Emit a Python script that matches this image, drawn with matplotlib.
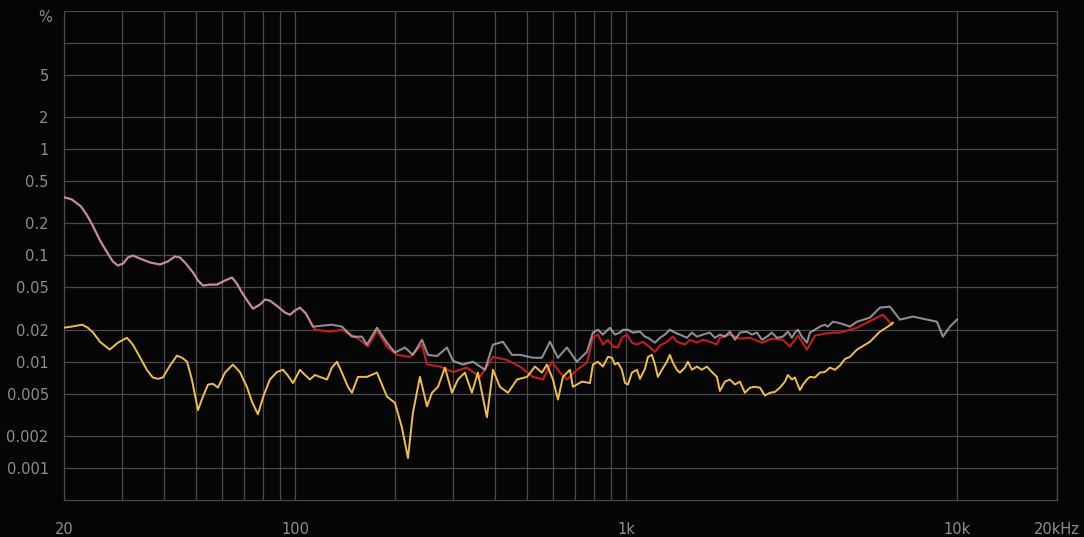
import matplotlib.pyplot as plt
from matplotlib.ticker import FixedLocator, NullFormatter

# frequency (Hz) and distortion (%)
grey_f = [20.1, 21.1, 22.5, 23.5, 24.5, 25.7, 27.0, 28.1, 29.1, 30.2, 31.2, 32.3, 33.9, 36.4,
          39.0, 41.2, 43.3, 44.8, 46.7, 49.1, 50.8, 52.6, 55.2, 58.0, 61.3, 64.4, 66.6, 69.0,
          71.9, 74.5, 78.2, 81.0, 83.8, 88.6, 93.1, 96.4, 99.7, 103.3, 107.7, 113.0,
          129.0, 138.4, 148.3, 159.0, 164.6, 176.5, 189.2, 200, 214.4, 226.6, 241.4, 251.6,
          268, 287.2, 299.4, 321, 344, 374.2, 395.6, 424, 451.4, 477.2, 522.4, 556.2, 587.8,
          621.6, 661.6, 709.2, 760.6,
          793, 821, 850, 892, 924, 957, 977, 1012, 1047, 1100, 1139, 1163, 1221, 1264, 1308,
          1354, 1403, 1452, 1525, 1579, 1635, 1704, 1789, 1853, 1918, 1986, 2056, 2130, 2205,
          2314, 2396, 2482, 2570, 2660, 2754, 2852, 2974, 3078, 3166, 3232, 3300, 3394, 3514,
          3588, 3714, 3846, 3982, 4066, 4210, 4358, 4576, 4738,
          4976, 5446, 5840, 6260, 6710, 7346, 8098, 8680, 9050, 9502, 9978]
grey_v = [0.352, 0.3375, 0.290, 0.2384, 0.188, 0.1385, 0.107, 0.0878, 0.0805, 0.0840, 0.0958,
          0.100, 0.0937, 0.0859, 0.0822, 0.0878, 0.0979, 0.0958, 0.0840, 0.0691, 0.0581,
          0.0521, 0.0532, 0.0532, 0.0581, 0.0620, 0.0544, 0.0448, 0.0368, 0.0316, 0.0345,
          0.0385, 0.0376, 0.0330, 0.0290, 0.0277, 0.0303, 0.0323, 0.0284, 0.0214,
          0.0223, 0.0214, 0.0172, 0.0172, 0.0145, 0.0209, 0.0151, 0.0122, 0.0136, 0.0116,
          0.0161, 0.0116, 0.0113, 0.0136, 0.0102, 0.0094, 0.0100, 0.0084, 0.0145, 0.0154,
          0.0116, 0.0116, 0.0109, 0.0109, 0.0154, 0.0109, 0.0136, 0.0100, 0.0124,
          0.0188, 0.0200, 0.0180, 0.0209, 0.0180, 0.0188, 0.0200, 0.0200, 0.0188, 0.0192,
          0.0172, 0.0168, 0.0151, 0.0168, 0.0180, 0.0200, 0.0188, 0.0180, 0.0168, 0.0188,
          0.0172, 0.0180, 0.0188, 0.0168, 0.0180, 0.0172, 0.0192, 0.0161, 0.0188, 0.0192,
          0.0180, 0.0188, 0.0161, 0.0172, 0.0188, 0.0168, 0.0172, 0.0192, 0.0168, 0.0188,
          0.0200, 0.0172, 0.0151, 0.0188, 0.0200, 0.0214, 0.0223, 0.0214, 0.0238, 0.0233,
          0.0223, 0.0214,
          0.0238, 0.0260, 0.0323, 0.0330, 0.0249, 0.0266, 0.0249, 0.0238, 0.0172, 0.0214,
          0.0249]

red_f = [20.1, 21.1, 22.5, 23.5, 24.5, 25.7, 27.0, 28.1, 29.1, 30.2, 31.2, 32.3, 33.9, 36.4,
         39.0, 41.2, 43.3, 44.8, 46.7, 49.1, 50.8, 52.6, 55.2, 58.0, 61.3, 64.4, 66.6, 69.0,
         71.9, 74.5, 78.2, 81.0, 83.8, 88.6, 93.1, 96.4, 99.7, 103.3, 107.7,
         114.6, 127.3, 138.4, 156.7, 165.8, 176.5, 189.2, 202.8, 222, 241.4, 250, 273.6,
         299.4, 330, 361.2, 395.6, 436, 477.2, 522.4, 560, 596.2, 630.2, 661.6, 709.2, 760.6,
         793, 821, 850, 880, 911, 944, 970, 1005, 1040, 1077, 1123, 1179, 1221, 1264, 1327,
         1383, 1422, 1504, 1557, 1635, 1704, 1789, 1879,
         1918, 2056, 2205, 2364, 2570, 2754, 2974, 3122, 3300, 3514, 3714, 3982, 4210, 4420,
         4976, 5560, 5962, 6346]
red_v = [0.352, 0.3375, 0.290, 0.2384, 0.188, 0.1385, 0.107, 0.0878, 0.0805, 0.0840, 0.0958,
         0.100, 0.0937, 0.0859, 0.0822, 0.0878, 0.0979, 0.0958, 0.0840, 0.0691, 0.0581,
         0.0521, 0.0532, 0.0532, 0.0581, 0.0620, 0.0544, 0.0448, 0.0368, 0.0316, 0.0345,
         0.0385, 0.0376, 0.0330, 0.0290, 0.0277, 0.0303, 0.0323, 0.0284,
         0.0200, 0.0192, 0.0200, 0.0161, 0.0139, 0.0196, 0.0139, 0.0116, 0.0111, 0.0145,
         0.0094, 0.0090, 0.0080, 0.0088, 0.0072, 0.0111, 0.0104, 0.0090, 0.0072, 0.0068,
         0.0100, 0.0079, 0.0068, 0.0084, 0.0098,
         0.0168, 0.0180, 0.0145, 0.0161, 0.0139, 0.0136, 0.0168, 0.0180, 0.0151, 0.0145,
         0.0154, 0.0136, 0.0124, 0.0142, 0.0154, 0.0172, 0.0154, 0.0145, 0.0161, 0.0151,
         0.0161, 0.0154, 0.0145,
         0.0168, 0.0180, 0.0165, 0.0168, 0.0151, 0.0165, 0.0161, 0.0139, 0.0176, 0.0130,
         0.0176, 0.0184, 0.0188, 0.0188, 0.0209, 0.0249, 0.0277, 0.0223]

yellow_f = [20, 21.1, 22.7, 23.6, 24.5, 25.7, 27.5, 29.1, 31.0, 32.3, 33.9, 35.6, 37.1, 38.5,
            39.8, 41.8, 43.9, 45.5, 47.1, 48.7, 50.8, 52.6, 54.5, 56.4, 58.4, 61.3, 64.8,
            68.0, 71.4, 74.0, 77.1, 80.4, 83.8, 88.0, 91.8, 95.0, 98.4, 101.1, 103.3, 107.0,
            110.7, 114.6, 118.6, 124.7, 129.0, 133.6, 139.3, 144.2, 148.3, 154.6,
            164.6, 176.5, 189.2, 200, 210, 219, 226.6, 238, 250, 258.8, 269.8, 283.2, 297.4,
            310, 325.4, 341.6, 356.2, 379.2, 395.6, 415.2, 439, 467.4, 501, 529.8, 556.2,
            575.8, 600.4, 621.6, 643.6, 675.6, 689.8, 734.6,
            776.6, 793, 821, 850, 880, 905, 924, 944, 970, 991, 1012, 1040, 1077, 1100, 1139,
            1163, 1195, 1221, 1246, 1281, 1327, 1354, 1383, 1422, 1452, 1504, 1535, 1579,
            1635, 1692, 1752, 1814, 1879,
            1918, 1986, 2056, 2130, 2205, 2282, 2364, 2448, 2534, 2624, 2716, 2812, 2912,
            3016, 3078, 3166, 3232, 3346, 3418, 3514, 3588, 3714, 3846, 3982, 4124, 4270,
            4420, 4576, 4738,
            4976, 5446, 5840, 6172, 6390]
yellow_v = [0.0209, 0.0214, 0.0223, 0.0209, 0.0188, 0.0154, 0.0130, 0.0151, 0.0168, 0.0145,
            0.0111, 0.0084, 0.0071, 0.0069, 0.0071, 0.0092, 0.0114, 0.0109, 0.0100, 0.0068,
            0.0035, 0.0047, 0.0061, 0.0062, 0.0057, 0.0079, 0.0094, 0.0080, 0.0058, 0.0042,
            0.0032, 0.0049, 0.0068, 0.0080, 0.0084, 0.0074, 0.0063, 0.0074, 0.0084, 0.0075,
            0.0068, 0.0075, 0.0072, 0.0068, 0.0088, 0.0100, 0.0075, 0.0058, 0.0051, 0.0072,
            0.0072, 0.0079, 0.0047, 0.0041, 0.0024, 0.00124, 0.0033, 0.0072, 0.0038, 0.0051,
            0.0058, 0.0088, 0.0051, 0.0068, 0.0079, 0.0051, 0.0079, 0.0030, 0.0084, 0.0058,
            0.0051, 0.0068, 0.0072, 0.0090, 0.0079, 0.0094, 0.0068, 0.0044, 0.0072, 0.0084,
            0.0058, 0.0065,
            0.0063, 0.0094, 0.0100, 0.0090, 0.0111, 0.0109, 0.0094, 0.0098, 0.0084, 0.0063,
            0.0061, 0.0079, 0.0084, 0.0069, 0.0086, 0.0111, 0.0116, 0.0094, 0.0072, 0.0084,
            0.0100, 0.0116, 0.0098, 0.0084, 0.0079, 0.0088, 0.0100, 0.0084, 0.0090, 0.0084,
            0.0090, 0.0080, 0.0072,
            0.0053, 0.0065, 0.0068, 0.0061, 0.0065, 0.0051, 0.0057, 0.0058, 0.0057, 0.0048,
            0.0051, 0.0052, 0.0057, 0.0065, 0.0075, 0.0068, 0.0071, 0.0054, 0.0061, 0.0068,
            0.0072, 0.0071, 0.0079, 0.0080, 0.0088, 0.0084, 0.0092, 0.0106, 0.0111,
            0.0130, 0.0154, 0.0192, 0.0214, 0.0233]

x_major = [20, 100, 1000, 10000, 20000]
x_labels = ['20', '100', '1k', '10k', '20kHz']
x_minor = [30, 40, 50, 60, 70, 80, 90, 200, 300, 400, 500, 600, 700, 800, 900]
y_major = [5, 2, 1, 0.5, 0.2, 0.1, 0.05, 0.02, 0.01, 0.005, 0.002, 0.001]
y_labels = ['5', '2', '1', '0.5', '0.2', '0.1', '0.05', '0.02', '0.01', '0.005', '0.002', '0.001']
y_minor = [10, 20]

bg = '#050505'
gridc = '#4a4a4a'
textc = '#8e8e8e'

fig = plt.figure(figsize=(10.84, 5.37), dpi=100, facecolor=bg)
ax = fig.add_axes([0.059, 0.069, 0.916, 0.9105])
ax.set_facecolor(bg)

ax.plot(red_f, red_v, color='#c41e1a', lw=1.5, zorder=3)
ax.plot(yellow_f, yellow_v, color='#f0be48', lw=1.4, zorder=4)
ax.plot(grey_f, grey_v, color='#b6bac6', lw=1.5, alpha=0.75, zorder=5)

ax.set_xscale('log')
ax.set_yscale('log')
ax.set_xlim(20, 20000)
ax.set_ylim(0.0005, 20)

ax.xaxis.set_major_locator(FixedLocator(x_major))
ax.set_xticklabels(x_labels)
ax.xaxis.set_minor_locator(FixedLocator(x_minor))
ax.xaxis.set_minor_formatter(NullFormatter())
ax.yaxis.set_major_locator(FixedLocator(y_major))
ax.set_yticklabels(y_labels)
ax.yaxis.set_minor_locator(FixedLocator(y_minor))
ax.yaxis.set_minor_formatter(NullFormatter())

ax.grid(True, which='both', color=gridc, lw=0.9)
ax.tick_params(which='both', length=0, colors=textc, labelsize=10.5)
ax.tick_params(axis='x', pad=16)
ax.tick_params(axis='y', pad=11)
for lab in ax.get_xticklabels() + ax.get_yticklabels():
    lab.set_fontweight('medium')

ax.spines['top'].set_visible(False)
for side in ['left', 'bottom', 'right']:
    ax.spines[side].set_color(gridc)
    ax.spines[side].set_linewidth(0.9)

ax.text(-0.012, 17.5, '%', transform=ax.get_yaxis_transform(), ha='right', va='center',
        color=textc, fontsize=10.5, fontweight='medium')

fig.savefig('out.png', dpi=100, facecolor=bg)
